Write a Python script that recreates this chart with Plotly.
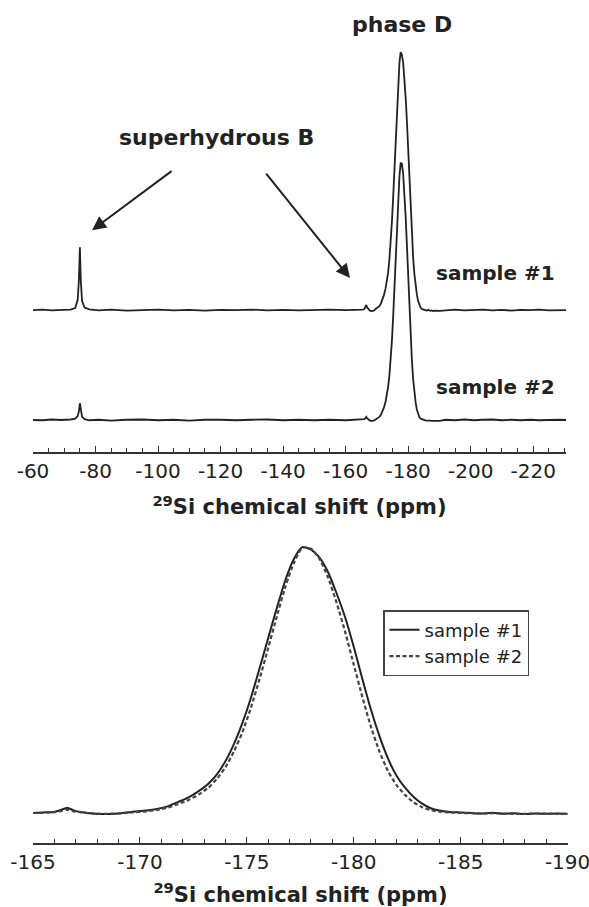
import plotly.graph_objects as go

# ---------------- data ----------------
# phase D peak profile, normalised (baseline 0, apex 1)
profile_ppm = [-165.0, -165.5, -166.0, -166.3, -166.6, -166.9, -167.3, -167.8, -168.3, -169.0,
               -169.6, -170.3, -170.8, -171.3, -171.8, -172.3, -172.8, -173.2, -173.6, -174.0,
               -174.4, -174.8, -175.2, -175.6, -176.0, -176.4, -176.8, -177.2, -177.6, -178.0,
               -178.4, -178.8, -179.2, -179.6, -180.0, -180.4, -180.8, -181.2, -181.6, -182.0,
               -182.4, -182.8, -183.2, -183.6, -184.0, -184.5, -185.0, -185.5, -186.0, -186.5,
               -187.0, -187.5, -188.0, -188.5, -189.0, -189.5, -190.0]
profile_s1 = [0.000, 0.002, 0.004, 0.011, 0.020, 0.010, 0.003, -0.002, -0.004, -0.002,
              0.004, 0.009, 0.015, 0.025, 0.042, 0.060, 0.085, 0.110, 0.145, 0.195,
              0.260, 0.340, 0.435, 0.545, 0.658, 0.770, 0.875, 0.955, 1.000, 0.990,
              0.960, 0.905, 0.825, 0.735, 0.625, 0.505, 0.390, 0.290, 0.205, 0.140,
              0.095, 0.060, 0.035, 0.018, 0.009, 0.004, 0.002, 0.000, -0.002, 0.001,
              -0.003, -0.001, -0.004, -0.002, -0.003, -0.002, -0.003]
profile_s2 = [0.000, 0.001, 0.003, 0.007, 0.012, 0.006, 0.002, -0.002, -0.003, -0.002,
              0.002, 0.006, 0.012, 0.020, 0.034, 0.050, 0.072, 0.095, 0.128, 0.172,
              0.232, 0.305, 0.398, 0.505, 0.620, 0.738, 0.850, 0.940, 0.997, 0.993,
              0.955, 0.885, 0.790, 0.680, 0.558, 0.437, 0.325, 0.232, 0.158, 0.105,
              0.068, 0.040, 0.022, 0.011, 0.005, 0.002, 0.000, -0.001, -0.002, -0.001,
              -0.002, -0.003, -0.003, -0.002, -0.002, -0.003, -0.003]

# wide spectrum, low-field part (with the superhydrous B line at -75 ppm)
wide_left_ppm = [-60, -63, -66, -69, -72, -73.5, -74.3, -74.7, -75.0, -75.3, -75.7, -76.5, -78,
                 -81, -85, -90, -95, -100, -105, -110, -115, -120, -125, -130, -135, -140,
                 -145, -150, -155, -160, -164]
wide_left_s1 = [0.000, 0.002, -0.001, 0.001, 0.002, 0.008, 0.040, 0.120, 0.244, 0.110, 0.035,
                0.010, 0.003, -0.001, 0.002, -0.002, 0.001, 0.002, -0.001, 0.001, -0.002, 0.001,
                0.000, 0.002, -0.001, 0.001, -0.001, 0.001, 0.002, 0.000, 0.001]
wide_left_s2 = [0.000, -0.001, 0.002, 0.000, 0.002, 0.005, 0.015, 0.035, 0.065, 0.032, 0.012,
                0.003, -0.001, 0.001, -0.002, 0.001, 0.002, -0.001, 0.001, -0.002, 0.001, 0.001,
                -0.001, 0.001, 0.002, -0.001, 0.001, -0.001, 0.001, -0.001, 0.001]

# wide spectrum, high-field part
wide_right_ppm = [-192, -195, -198, -201, -204, -207, -210, -213, -216, -219, -222, -225, -228, -230.5]
wide_right_s1 = [-0.001, 0.002, -0.001, 0.001, 0.002, -0.001, 0.001, -0.002, 0.001, 0.000,
                 0.002, -0.001, 0.001, 0.000]
wide_right_s2 = [0.001, -0.001, 0.002, -0.001, 0.001, 0.002, -0.001, 0.001, -0.001, 0.001,
                 -0.001, 0.001, 0.001, 0.000]

stack_offset = 0.426   # vertical offset of sample #1 in the stacked plot

top_tick_vals = [-60, -80, -100, -120, -140, -160, -180, -200, -220]
top_tick_text = ["-60", "-80", "-100", "-120", "-140", "-160", "-180", "-200", "-220"]
bot_tick_vals = [-165, -170, -175, -180, -185, -190]
bot_tick_text = ["-165", "-170", "-175", "-180", "-185", "-190"]

# ---------------- figure ----------------
W, H = 589, 907
ML, MR = 33, 21
INK = "#222222"
FONT = "DejaVu Sans"

top_x = wide_left_ppm + profile_ppm + wide_right_ppm
top_s1 = [v + stack_offset for v in wide_left_s1 + profile_s1 + wide_right_s1]
top_s2 = wide_left_s2 + profile_s2 + wide_right_s2

fig = go.Figure()
fig.add_trace(go.Scatter(x=top_x, y=top_s2, mode="lines", xaxis="x", yaxis="y",
                         line=dict(color=INK, width=1.8), showlegend=False))
fig.add_trace(go.Scatter(x=top_x, y=top_s1, mode="lines", xaxis="x", yaxis="y",
                         line=dict(color=INK, width=1.8), showlegend=False))
fig.add_trace(go.Scatter(x=profile_ppm, y=profile_s1, mode="lines", xaxis="x2", yaxis="y2",
                         name="sample #1", line=dict(color=INK, width=2, shape="spline", smoothing=0.6)))
fig.add_trace(go.Scatter(x=profile_ppm, y=profile_s2, mode="lines", xaxis="x2", yaxis="y2",
                         name="sample #2",
                         line=dict(color="#444444", width=2.2, dash="4px,2.5px", shape="spline", smoothing=0.6)))

def ypaper(px):
    return 1 - px / H

axis_common = dict(showline=True, linecolor="#333333", linewidth=1.6, ticks="inside",
                   ticklen=6, tickwidth=1.4, tickcolor="#333333", showgrid=False, zeroline=False,
                   tickmode="array", ticklabeloverflow="allow",
                   tickfont=dict(family=FONT, size=20, color=INK))

fig.update_layout(
    width=W, height=H, margin=dict(l=ML, r=MR, t=0, b=0),
    paper_bgcolor="white", plot_bgcolor="white",
    font=dict(family=FONT, color=INK),
    xaxis=dict(range=[-60, -230.5], domain=[0, (566 - ML) / (W - ML - MR)], anchor="y",
               tickvals=top_tick_vals, ticktext=top_tick_text,
               minor=dict(tickmode="linear", tick0=-60, dtick=5, ticks="inside", ticklen=4,
                          tickwidth=1.2, tickcolor="#333333"),
               title=dict(text="<b><sup>29</sup>Si chemical shift (ppm)</b>",
                          font=dict(family=FONT, size=21, color=INK), standoff=18),
               **axis_common),
    yaxis=dict(range=[-0.124, 1.473], domain=[ypaper(452), ypaper(40)], visible=False),
    xaxis2=dict(range=[-165, -190.02], domain=[0, 1], anchor="y2",
                tickvals=bot_tick_vals, ticktext=bot_tick_text,
                minor=dict(tickmode="linear", tick0=-165, dtick=1, ticks="inside", ticklen=4,
                           tickwidth=1.2, tickcolor="#333333"),
                title=dict(text="<b><sup>29</sup>Si chemical shift (ppm)</b>",
                           font=dict(family=FONT, size=21, color=INK), standoff=15),
                **axis_common),
    yaxis2=dict(range=[-0.1128, 1.045], domain=[ypaper(843), ypaper(535)], visible=False),
    legend=dict(x=(383 - ML) / (W - ML - MR), y=ypaper(610), xanchor="left", yanchor="top",
                bgcolor="white", bordercolor="#444444", borderwidth=1.5,
                font=dict(family=FONT, size=18, color=INK), tracegroupgap=0),
)

def px_x(px):
    return (px - ML) / (W - ML - MR)

labels = [
    ("<b>phase D</b>", 402, 25, 22),
    ("<b>superhydrous B</b>", 216, 137, 22),
    ("<b>sample #1</b>", 495, 273, 20),
    ("<b>sample #2</b>", 495, 387, 20),
]
for text, x, y, size in labels:
    fig.add_annotation(text=text, x=px_x(x), y=ypaper(y), xref="paper", yref="paper",
                       showarrow=False, xanchor="center", yanchor="middle",
                       font=dict(family=FONT, size=size, color=INK))

# arrows (tip -> data feature, tail near label), in top-panel data coordinates
arrows = [((-104.8, 0.969), (-78.9, 0.736)),
          ((-134.2, 0.961), (-161.4, 0.550))]
for (tx, ty), (hx, hy) in arrows:
    fig.add_annotation(x=hx, y=hy, ax=tx, ay=ty, xref="x", yref="y", axref="x", ayref="y",
                       text="", showarrow=True, arrowhead=2, arrowsize=1.4, arrowwidth=2,
                       arrowcolor=INK)

fig.write_html("out.html")
